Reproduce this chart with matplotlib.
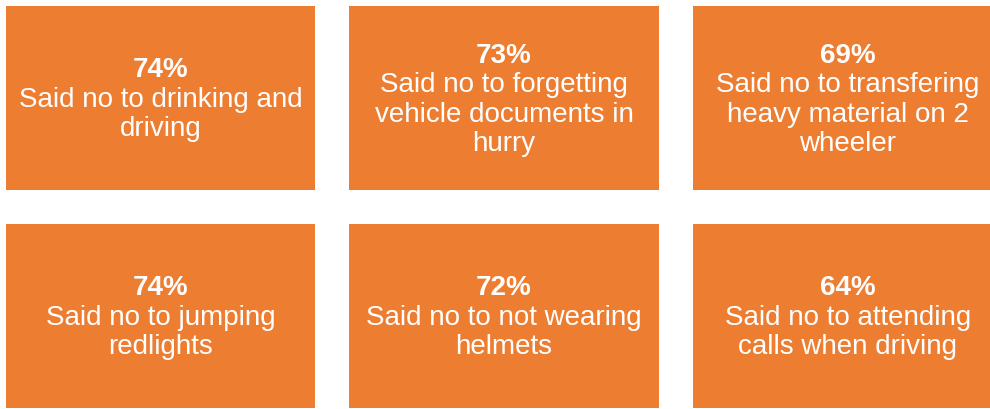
import matplotlib
matplotlib.use("Agg")
import matplotlib.pyplot as plt
from matplotlib.patches import Rectangle

percents = ["74%", "73%", "69%", "74%", "72%", "64%"]
labels = [
    "Said no to drinking and\ndriving",
    "Said no to forgetting\nvehicle documents in\nhurry",
    "Said no to transfering\nheavy material on 2\nwheeler",
    "Said no to jumping\nredlights",
    "Said no to not wearing\nhelmets",
    "Said no to attending\ncalls when driving",
]

col_edges = [(6, 315), (349, 659), (693, 1003)]
row_edges = [(6, 190), (224, 408)]
ORANGE = "#ED7D31"

fig = plt.figure(figsize=(9.9, 4.09), dpi=100)
ax = fig.add_axes([0, 0, 1, 1])
ax.set_xlim(0, 990)
ax.set_ylim(409, 0)
ax.axis("off")

font = "Liberation Sans"
i = 0
for r, (y0, y1) in enumerate(row_edges):
    for c, (x0, x1) in enumerate(col_edges):
        ax.add_patch(Rectangle((x0, y0), x1 - x0, y1 - y0, facecolor=ORANGE,
                               edgecolor="none", clip_on=True))
        cx = (x0 + x1) / 2
        cy = (y0 + y1) / 2
        lines = [percents[i]] + labels[i].split("\n")
        n = len(lines)
        step = 29.4
        for k, line in enumerate(lines):
            yb = cy + 8.8 + (k - (n - 1) / 2) * step
            ax.text(cx, yb, line, ha="center", va="baseline", color="white",
                    fontsize=20, fontweight="bold" if k == 0 else "normal",
                    family=font)
        i += 1

fig.savefig("out.png", dpi=100)
